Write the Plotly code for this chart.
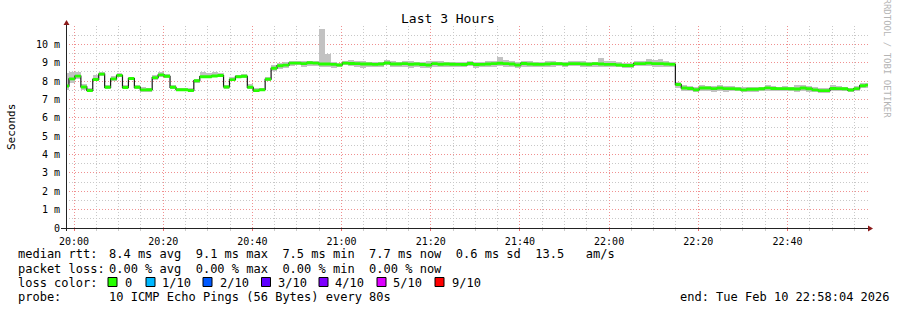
import pandas as pd
import plotly.graph_objects as go

# ---------------- data ----------------
STEP_START = "2026-02-10 19:57:32"   # start of first (partially visible) RRD step
STEP_SECONDS = 80
RANGE_START = "2026-02-10 19:58:12"
RANGE_END = "2026-02-10 22:58:04"

median_ms = [
    7.73, 8.12, 8.27, 7.68, 7.49, 8.09, 8.38, 7.66, 8.12, 8.31,
    7.65, 8.14, 7.66, 7.52, 7.53, 8.19, 8.34, 8.26, 7.66, 7.53,
    7.53, 7.49, 8.02, 8.24, 8.24, 8.28, 8.30, 7.68, 8.08, 8.24,
    8.26, 7.66, 7.48, 7.53, 8.10, 8.70, 8.84, 8.87, 8.98, 8.98,
    8.95, 9.00, 8.98, 8.93, 8.93, 8.91, 8.88, 8.98, 8.96, 8.95,
    8.93, 8.93, 8.91, 8.93, 8.99, 8.93, 8.93, 8.95, 8.92, 8.93,
    8.90, 8.88, 8.95, 8.92, 8.93, 8.92, 8.91, 8.90, 8.96, 8.90,
    8.91, 8.93, 8.95, 8.97, 8.95, 8.93, 8.88, 8.96, 8.93, 8.92,
    8.91, 8.93, 8.95, 8.95, 8.92, 8.95, 8.95, 8.93, 8.92, 8.95,
    8.93, 8.91, 8.91, 8.88, 8.85, 8.85, 8.95, 8.95, 8.98, 8.95,
    8.95, 8.93, 8.91, 7.81, 7.62, 7.60, 7.53, 7.62, 7.62, 7.59,
    7.62, 7.59, 7.59, 7.57, 7.52, 7.56, 7.56, 7.58, 7.63, 7.60,
    7.59, 7.59, 7.58, 7.57, 7.62, 7.58, 7.52, 7.48, 7.48, 7.60,
    7.59, 7.58, 7.51, 7.59, 7.75, 7.78,
]

smoke_lo_ms = [
    7.50, 7.88, 8.12, 7.52, 7.40, 7.98, 8.26, 7.55, 8.02, 8.22,
    7.55, 8.05, 7.55, 7.42, 7.40, 8.08, 8.24, 8.16, 7.56, 7.44,
    7.44, 7.40, 7.92, 8.16, 8.18, 8.20, 8.22, 7.58, 7.98, 8.15,
    8.16, 7.56, 7.38, 7.44, 8.00, 8.55, 8.68, 8.72, 8.82, 8.85,
    8.78, 8.82, 8.80, 8.75, 8.78, 8.72, 8.75, 8.85, 8.80, 8.78,
    8.72, 8.78, 8.75, 8.78, 8.85, 8.75, 8.78, 8.75, 8.72, 8.75,
    8.72, 8.72, 8.78, 8.78, 8.78, 8.78, 8.75, 8.78, 8.82, 8.72,
    8.78, 8.78, 8.78, 8.82, 8.78, 8.78, 8.72, 8.78, 8.78, 8.75,
    8.75, 8.78, 8.78, 8.80, 8.78, 8.80, 8.82, 8.78, 8.75, 8.78,
    8.78, 8.75, 8.78, 8.75, 8.72, 8.70, 8.80, 8.80, 8.82, 8.78,
    8.78, 8.78, 8.75, 7.65, 7.48, 7.45, 7.38, 7.48, 7.45, 7.42,
    7.48, 7.42, 7.45, 7.45, 7.38, 7.42, 7.42, 7.45, 7.48, 7.45,
    7.48, 7.45, 7.45, 7.42, 7.48, 7.42, 7.38, 7.35, 7.35, 7.45,
    7.45, 7.45, 7.38, 7.45, 7.62, 7.65,
]

smoke_hi_ms = [
    8.42, 8.48, 8.48, 7.85, 7.62, 8.35, 8.48, 7.80, 8.28, 8.45,
    7.78, 8.25, 7.80, 7.66, 7.64, 8.33, 8.48, 8.38, 7.78, 7.65,
    7.64, 7.60, 8.14, 8.50, 8.46, 8.48, 8.46, 7.80, 8.20, 8.35,
    8.40, 7.85, 7.60, 7.64, 8.24, 8.85, 8.98, 9.05, 9.10, 9.10,
    9.08, 9.12, 9.10, 10.85, 9.46, 9.05, 9.00, 9.12, 9.15, 9.12,
    9.10, 9.05, 9.02, 9.05, 9.15, 9.10, 9.05, 9.10, 9.10, 9.05,
    9.05, 9.10, 9.10, 9.08, 9.05, 9.05, 9.05, 9.02, 9.08, 9.02,
    9.05, 9.10, 9.10, 9.32, 9.15, 9.10, 9.02, 9.10, 9.10, 9.05,
    9.03, 9.10, 9.10, 9.05, 9.05, 9.10, 9.08, 9.12, 9.05, 9.05,
    9.25, 9.08, 9.10, 9.02, 9.00, 9.00, 9.10, 9.10, 9.18, 9.15,
    9.18, 9.10, 9.05, 7.95, 7.78, 7.75, 7.68, 7.78, 7.75, 7.72,
    7.78, 7.75, 7.72, 7.70, 7.68, 7.70, 7.68, 7.70, 7.80, 7.75,
    7.70, 7.72, 7.70, 7.78, 7.78, 7.72, 7.66, 7.60, 7.60, 7.78,
    7.72, 7.70, 7.65, 7.72, 7.88, 7.90,
]

y_tick_values = [0, 1, 2, 3, 4, 5, 6, 7, 8, 9, 10]
y_tick_labels = ["0", "1 m", "2 m", "3 m", "4 m", "5 m", "6 m", "7 m", "8 m", "9 m", "10 m"]

loss_labels = ["0", "1/10", "2/10", "3/10", "4/10", "5/10", "9/10"]
loss_colors = ["#26ff00", "#00b8ff", "#0059ff", "#5e00ff", "#7e00ff", "#dd00ff", "#ff0000"]

title_text = "Last 3 Hours"
y_title = "Seconds"
rtt_label = "median rtt:"
rtt_stats = "8.4 ms avg  9.1 ms max  7.5 ms min  7.7 ms now  0.6 ms sd  13.5   am/s"
loss_label = "packet loss:"
loss_stats = "0.00 % avg  0.00 % max  0.00 % min  0.00 % now"
color_label = "loss color:"
probe_label = "probe:"
probe_text = "10 ICMP Echo Pings (56 Bytes) every 80s"
end_text = "end: Tue Feb 10 22:58:04 2026"
side_text = "RRDTOOL / TOBI OETIKER"

# ---------------- geometry / style ----------------
W, H = 897, 310
L, R, T, B = 66, 29, 26, 82
PW, PH = W - L - R, H - T - B
MONO = "DejaVu Sans Mono"
GRID_DASH = "1px,2px"


def px(x):
    return (x - L) / PW


def py(y):
    return (H - B - y) / PH


def nb(s):
    return s.replace(" ", "\u00a0")


n = len(median_ms)
starts = pd.date_range(STEP_START, periods=n, freq=f"{STEP_SECONDS}s")
centers = starts + pd.Timedelta(seconds=STEP_SECONDS / 2)
step_ms = STEP_SECONDS * 1000
edge_x = list(starts) + [starts[-1] + pd.Timedelta(seconds=STEP_SECONDS)]

fig = go.Figure()

# smoke (bar layer, underneath everything)
fig.add_trace(go.Bar(
    x=centers, base=smoke_lo_ms,
    y=[h - l for h, l in zip(smoke_hi_ms, smoke_lo_ms)],
    width=step_ms, marker=dict(color="#c2c2c2", line=dict(width=0)),
    hoverinfo="skip", showlegend=False,
))

# median step line
line_y = list(median_ms) + [median_ms[-1]]
fig.add_trace(go.Scatter(
    x=edge_x, y=line_y, mode="lines", line=dict(color="#1a1a1a", width=1.2, shape="hv"),
    hoverinfo="skip", showlegend=False,
))

# loss colour band (0 loss -> green), drawn above the median line
BAND = 0.16
lo_edge = [m - BAND / 2 for m in median_ms]
hi_edge = [m + BAND / 2 for m in median_ms]
fig.add_trace(go.Scatter(
    x=edge_x, y=lo_edge + [lo_edge[-1]], mode="lines",
    line=dict(width=0, shape="hv"), hoverinfo="skip", showlegend=False,
))
fig.add_trace(go.Scatter(
    x=edge_x, y=hi_edge + [hi_edge[-1]], mode="lines", fill="tonexty",
    fillcolor=loss_colors[0], line=dict(width=0, shape="hv"),
    hoverinfo="skip", showlegend=False,
))

fig.update_layout(
    width=W, height=H,
    margin=dict(l=L, r=R, t=T, b=B, pad=0),
    paper_bgcolor="white", plot_bgcolor="white",
    barmode="overlay", bargap=0,
    showlegend=False,
    font=dict(family=MONO, size=10, color="#000000"),
)

fig.update_xaxes(
    type="date", range=[RANGE_START, RANGE_END],
    tick0="2026-02-10 20:00:00", dtick=20 * 60 * 1000, tickformat="%H:%M",
    showgrid=True, gridcolor="#f09090", griddash=GRID_DASH, gridwidth=1,
    ticks="outside", ticklen=2, tickcolor="#f07070",
    tickfont=dict(family=MONO, size=10, color="#000"),
    ticklabelstandoff=2,
    minor=dict(dtick=5 * 60 * 1000, showgrid=True, gridcolor="#c8c8c8",
               griddash=GRID_DASH, gridwidth=1, ticks="outside", ticklen=2, tickcolor="#cccccc"),
    showline=False, zeroline=False,
)

fig.update_yaxes(
    range=[0, 11], tickvals=y_tick_values, ticktext=y_tick_labels,
    showgrid=True, gridcolor="#f09090", griddash=GRID_DASH, gridwidth=1,
    tickfont=dict(family=MONO, size=10, color="#000"),
    ticks="", ticklabelstandoff=5,
    minor=dict(dtick=0.5, showgrid=True, gridcolor="#c8c8c8", griddash=GRID_DASH,
               gridwidth=1, ticks=""),
    showline=False, zeroline=False,
)

shapes = []
# axes lines
shapes.append(dict(type="line", xref="paper", yref="paper",
                   x0=px(66.5), x1=px(66.5), y0=py(231), y1=py(24),
                   line=dict(color="#222222", width=1)))
shapes.append(dict(type="line", xref="paper", yref="paper",
                   x0=px(61), x1=px(868), y0=py(228.5), y1=py(228.5),
                   line=dict(color="#222222", width=1)))
# arrows
shapes.append(dict(type="path", xref="paper", yref="paper",
                   path=f"M {px(63.5)} {py(25)} L {px(69.5)} {py(25)} L {px(66.5)} {py(20)} Z",
                   fillcolor="#8b1a1a", line=dict(width=0)))
shapes.append(dict(type="path", xref="paper", yref="paper",
                   path=f"M {px(868)} {py(225.5)} L {px(868)} {py(231.5)} L {px(873)} {py(228.5)} Z",
                   fillcolor="#8b1a1a", line=dict(width=0)))
# loss colour boxes
box_x = [108, 146, 203, 261.5, 319, 377, 435]
for bx, col in zip(box_x, loss_colors):
    shapes.append(dict(type="rect", xref="paper", yref="paper",
                       x0=px(bx), x1=px(bx + 9), y0=py(286.5), y1=py(277.5),
                       fillcolor=col, line=dict(color="#000000", width=1)))
fig.update_layout(shapes=shapes)

ann = []


def text(x, y, s, size=12, xanchor="left", color="#000000", angle=0):
    ann.append(dict(xref="paper", yref="paper", x=px(x), y=py(y), text=nb(s),
                    showarrow=False, xanchor=xanchor, yanchor="middle", textangle=angle,
                    font=dict(family=MONO, size=size, color=color)))


text(448, 19, title_text, size=13, xanchor="center")
text(11, 127, y_title, size=11, xanchor="center", angle=-90)
text(16, 254.5, rtt_label)
text(107, 254.5, rtt_stats)
text(16, 268.5, loss_label)
text(107, 268.5, loss_stats)
text(16, 282.5, color_label)
label_x = [123, 160, 218, 276, 333, 391, 450]
for lx, lab in zip(label_x, loss_labels):
    text(lx, 282.5, lab)
text(16, 296.5, probe_label)
text(107, 296.5, probe_text)
text(678, 296.5, end_text)
text(886.5, 58, side_text, size=9, xanchor="center", color="#b4b4b4", angle=90)
fig.update_layout(annotations=ann)

fig.write_html("out.html")
